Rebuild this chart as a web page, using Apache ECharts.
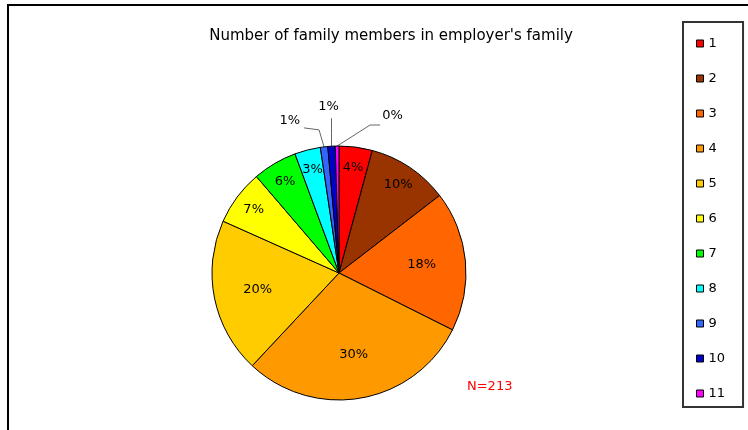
<!DOCTYPE html>
<html>
<head>
<meta charset="utf-8">
<script src="https://cdn.jsdelivr.net/npm/echarts@6/dist/echarts.min.js"></script>
<style>
  html, body { margin: 0; padding: 0; background: #fff; }
  #chart { width: 748px; height: 430px; }
</style>
</head>
<body>
<div id="chart"></div>
<script>
// family size categories and respondent counts (N=213)
const categories = ['1', '2', '3', '4', '5', '6', '7', '8', '9', '10', '11']
const counts = [9, 22, 38, 63, 42, 15, 12, 7, 2, 2, 1]
const colors = ['#FF0000', '#993300', '#FF6600', '#FF9900', '#FFCC00', '#FFFF00',
  '#00FF00', '#00FFFF', '#3366FF', '#0000CC', '#FF00FF']
const bigSlices = ['3', '4', '5']            // labels nearer the centre
const smallSlices = ['1', '2', '6', '7', '8'] // labels nearer the rim
const outsideSlices = ['9', '10', '11']      // labels with leader lines

const font = 'DejaVu Sans'
const cx = 339
const cy = 273
const R = 127

const pct = (p) => Math.round(p.percent) + '%'

const pieData = categories.map((name, i) => ({
  name,
  value: counts[i],
  itemStyle: { color: colors[i] },
}))

// transparent copy of the pie used only to carry labels at a given radius
function labelRing(r0, shown) {
  return {
    type: 'pie',
    silent: true,
    radius: [r0, R],
    center: [cx, cy],
    clockwise: true,
    startAngle: 90,
    legendHoverLink: false,
    itemStyle: { color: 'rgba(0,0,0,0)', borderWidth: 0 },
    emphasis: { disabled: true },
    labelLine: { show: false },
    label: {
      show: true,
      position: 'inside',
      formatter: (p) => (shown.includes(p.name) ? pct(p) : ''),
      color: '#000',
      fontFamily: font,
      fontSize: 13,
    },
    data: categories.map((name, i) => ({ name, value: counts[i] })),
  }
}

// leader lines for the tiny slices at the top, offsets from the rim point
function leader(params) {
  const name = categories[params.dataIndex]
  const pts = params.labelLinePoints
  if (!outsideSlices.includes(name) || !pts) return {}
  const [ax, ay] = pts[0]
  if (name === '9') {
    return {
      x: ax - 24, y: ay - 26, align: 'right', verticalAlign: 'middle', hideOverlap: false,
      labelLinePoints: [[ax, ay], [ax - 5, ay - 17], [ax - 20, ay - 19]],
    }
  }
  if (name === '10') {
    return {
      x: ax - 3, y: ay - 40, align: 'center', verticalAlign: 'middle', hideOverlap: false,
      labelLinePoints: [[ax, ay], [ax, ay - 13], [ax, ay - 28]],
    }
  }
  return {
    x: ax + 45, y: ay - 30, align: 'left', verticalAlign: 'middle', hideOverlap: false,
    labelLinePoints: [[ax, ay], [ax + 33, ay - 21], [ax + 43, ay - 21]],
  }
}

const chart = echarts.init(document.getElementById('chart'))
chart.setOption({
  animation: false,
  title: [
    {
      text: "Number of family members in employer's family",
      left: 386,
      top: 24,
      textAlign: 'center',
      textStyle: { fontFamily: font, fontSize: 15, fontWeight: 'normal', color: '#000' },
    },
    {
      text: 'N=213',
      left: 462,
      top: 375,
      textStyle: { fontFamily: font, fontSize: 13, fontWeight: 'normal', color: '#FF0000' },
    },
  ],
  graphic: [
    {
      type: 'rect',
      shape: { x: 8, y: 5, width: 760, height: 460 },
      style: { fill: 'none', stroke: '#000', lineWidth: 2 },
      silent: true,
    },
  ],
  legend: {
    orient: 'vertical',
    left: 683,
    top: 22,
    data: categories,
    icon: 'rect',
    itemWidth: 7,
    itemHeight: 7,
    itemGap: 16,
    padding: [12, 18, 4, 13],
    backgroundColor: '#fff',
    borderColor: '#333',
    borderWidth: 2,
    selectedMode: false,
    textStyle: { fontFamily: font, fontSize: 13, color: '#000', lineHeight: 15, padding: [4, 0, 0, 0] },
    itemStyle: { borderColor: '#000', borderWidth: 1 },
  },
  series: [
    {
      type: 'pie',
      name: 'family',
      radius: [0, R],
      center: [cx, cy],
      startAngle: 90,
      clockwise: true,
      avoidLabelOverlap: false,
      itemStyle: { borderColor: '#000', borderWidth: 1 },
      emphasis: { disabled: true },
      label: {
        show: true,
        position: 'outside',
        formatter: (p) => (outsideSlices.includes(p.name) ? pct(p) : ''),
        color: '#000',
        fontFamily: font,
        fontSize: 13,
      },
      labelLine: {
        show: true,
        length: 14,
        length2: 10,
        lineStyle: { color: '#666', width: 1 },
      },
      labelLayout: leader,
      data: pieData.map((d) => ({
        ...d,
        labelLine: { show: outsideSlices.includes(d.name) },
      })),
    },
    labelRing(33, bigSlices),
    labelRing(80, smallSlices),
  ],
})
</script>
</body>
</html>
